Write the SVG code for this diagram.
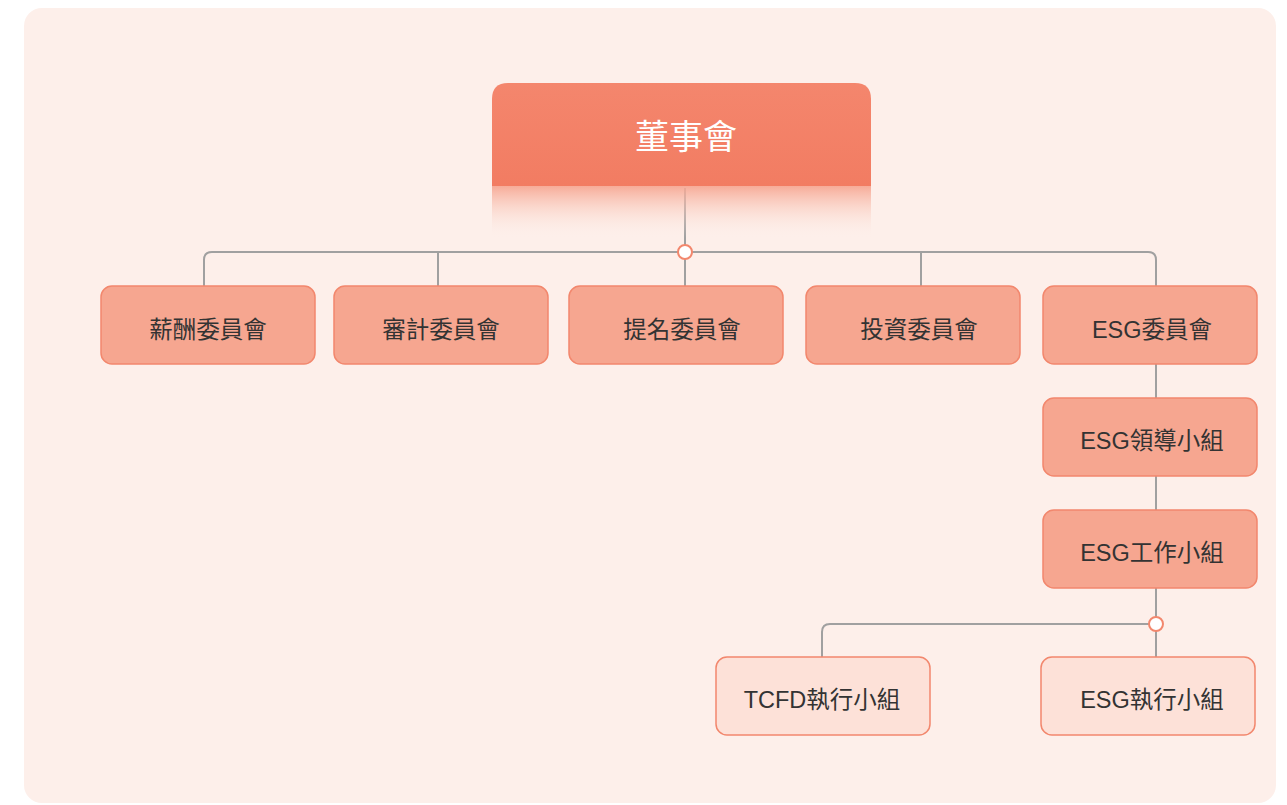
<svg xmlns="http://www.w3.org/2000/svg" width="1287" height="805" viewBox="0 0 1287 805">
<defs>
<linearGradient id="topg" x1="0" y1="0" x2="0" y2="1">
<stop offset="0" stop-color="#f4866d"/>
<stop offset="1" stop-color="#f27c62"/>
</linearGradient>
<linearGradient id="fade" x1="0" y1="0" x2="0" y2="1">
<stop offset="0" stop-color="#f6a48f" stop-opacity="0.9"/>
<stop offset="1" stop-color="#fdefe9" stop-opacity="0"/>
</linearGradient>
<style>
.box{fill:#f6a690;stroke:#f2876d;stroke-width:1.5}
.lbox{fill:#fde1d8;stroke:#f2876d;stroke-width:1.5}
.t{font-family:"Liberation Sans","Noto Sans CJK TC",sans-serif;font-size:23.5px;fill:#333;text-anchor:middle;dominant-baseline:central}
.ln{fill:none;stroke:#a0a0a0;stroke-width:2}
.dot{fill:#fff;stroke:#f2876d;stroke-width:2}
</style>
</defs>
<rect x="0" y="0" width="1287" height="805" fill="#ffffff"/>
<rect x="24" y="8" width="1252" height="795" rx="18" fill="#fdefea"/>
<g id="connectors">
<path class="ln" d="M685 188 V252"/>
<path class="ln" d="M204 286 V260 Q204 252 212 252 H1148 Q1156 252 1156 260 V286"/>
<path class="ln" d="M438 252 V286 M685 252 V286 M921 252 V286"/>
<path class="ln" d="M1156 364 V398 M1156 476 V510 M1156 588 V657"/>
<path class="ln" d="M822 657 V632 Q822 624 830 624 H1156"/>
<circle class="dot" cx="685" cy="252" r="7"/>
<circle class="dot" cx="1156" cy="624" r="7"/>
</g>
<g id="board">
<rect x="492" y="186" width="379" height="52" fill="url(#fade)"/>
<path d="M492 186 V99 Q492 83 508 83 H855 Q871 83 871 99 V186 Z" fill="url(#topg)"/>
<text x="686" y="137" font-family="Liberation Sans,'Noto Sans CJK TC',sans-serif" font-size="34" fill="#ffffff" text-anchor="middle" dominant-baseline="central">董事會</text>
</g>
<g id="n1"><rect class="box" x="101" y="286" width="214" height="78" rx="11"/><text class="t" x="208" y="330">薪酬委員會</text></g>
<g id="n2"><rect class="box" x="334" y="286" width="214" height="78" rx="11"/><text class="t" x="441" y="330">審計委員會</text></g>
<g id="n3"><rect class="box" x="569" y="286" width="214" height="78" rx="11"/><text class="t" x="682" y="330">提名委員會</text></g>
<g id="n4"><rect class="box" x="806" y="286" width="214" height="78" rx="11"/><text class="t" x="919" y="330">投資委員會</text></g>
<g id="n5"><rect class="box" x="1043" y="286" width="214" height="78" rx="11"/><text class="t" x="1152" y="330">ESG委員會</text></g>
<g id="n6"><rect class="box" x="1043" y="398" width="214" height="78" rx="11"/><text class="t" x="1152" y="441">ESG領導小組</text></g>
<g id="n7"><rect class="box" x="1043" y="510" width="214" height="78" rx="11"/><text class="t" x="1152" y="553">ESG工作小組</text></g>
<g id="n8"><rect class="lbox" x="716" y="657" width="214" height="78" rx="11"/><text class="t" x="822" y="700">TCFD執行小組</text></g>
<g id="n9"><rect class="lbox" x="1041" y="657" width="214" height="78" rx="11"/><text class="t" x="1152" y="700">ESG執行小組</text></g>
</svg>
